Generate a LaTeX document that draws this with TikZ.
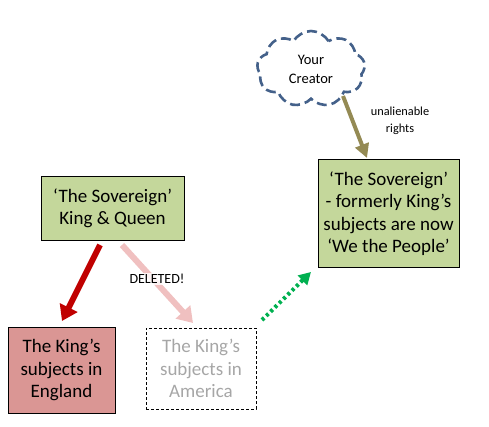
\documentclass[tikz,border=0pt]{standalone}
\usepackage{fontspec}
\setmainfont{Carlito}
\usetikzlibrary{arrows.meta,shapes.symbols}
\definecolor{boxgreen}{HTML}{C4D79B}
\definecolor{boxred}{HTML}{DA9694}
\definecolor{arrred}{HTML}{C00000}
\definecolor{arrpink}{HTML}{F0C0C0}
\definecolor{arrolive}{HTML}{948A54}
\definecolor{arrgreen}{HTML}{00B050}
\definecolor{cloudblue}{HTML}{44618A}
\definecolor{greytext}{HTML}{A6A6A6}
\tikzset{
  bigtext/.style={font=\fontsize{19}{22.5}\selectfont, align=center},
  solidbox/.style={draw=black, line width=1pt, bigtext, inner sep=0pt},
  fatarrow/.style={line width=6pt, -{Triangle[width=19pt,length=15pt]}, shorten <=0pt},
}
\begin{document}
\begin{tikzpicture}[x=1pt,y=-1pt]
\useasboundingbox (0,0) rectangle (489,427);
% cloud
\node[cloud, cloud puffs=9, cloud puff arc=120, aspect=1.4, draw=cloudblue, dashed, dash pattern=on 10pt off 5pt, line width=2.6pt, minimum width=108pt, minimum height=76pt, inner sep=0pt,
  font=\fontsize{14.5}{19}\selectfont, align=center] (creator) at (311,69) {Your\\Creator};
% boxes
\node[solidbox, fill=boxgreen, minimum width=143pt, minimum height=64pt] (kq) at (112.5,208.5) {‘The Sovereign’\\King \& Queen};
\node[solidbox, fill=boxgreen, minimum width=141pt, minimum height=107pt] (wtp) at (388.5,213.5) {‘The Sovereign’\\- formerly King’s\\subjects are now\\‘We the People’};
\node[solidbox, fill=boxred, minimum width=107pt, minimum height=86pt] (eng) at (61.5,370) {The King’s\\subjects in\\England};
\node[draw=black, dashed, dash pattern=on 3pt off 2pt, line width=0.8pt, bigtext, text=greytext, inner sep=0pt, minimum width=110pt, minimum height=81pt] (ame) at (201,368.5) {The King’s\\subjects in\\America};
% arrow end points
\coordinate (r1) at (100,245);
\coordinate (r2) at (62,321);
\coordinate (p1) at (122,245);
\coordinate (p2) at (193,323);
\coordinate (o1) at (343,96);
\coordinate (o2) at (367,158);
\coordinate (g1) at (262,320);
\coordinate (g2) at (311,272);
% arrows
\draw[fatarrow, draw=arrpink, fill=arrpink] (p1) -- (p2);
\draw[fatarrow, draw=arrred, fill=arrred] (r1) -- (r2);
\node[fill=white, fill opacity=0.8, text opacity=1, inner sep=1pt, font=\fontsize{14}{16}\selectfont] (del) at (157,279) {DELETED!};
\draw[line width=4pt, draw=arrolive, -{Triangle[width=14pt,length=14pt]}] (o1) -- (o2);
\node[font=\fontsize{12.3}{17}\selectfont, align=center] (unal) at (400,121) {unalienable\\rights};
\draw[line width=4pt, draw=arrgreen, dash pattern=on 3pt off 3pt, -{Triangle[width=13pt,length=12pt]}] (g1) -- (g2);
\end{tikzpicture}
\end{document}
